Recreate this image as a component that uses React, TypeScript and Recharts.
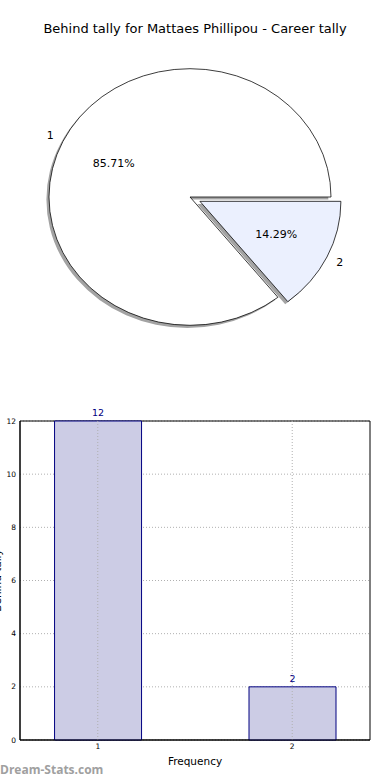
import React from 'react';
import {
  PieChart, Pie, Cell, BarChart, Bar, XAxis, YAxis, CartesianGrid,
  LabelList, ReferenceLine, ReferenceArea,
} from 'recharts';

const categories = ['1', '2'];
const values = [12, 2];
const xPositions = [1, 2];
const yTicks = [0, 2, 4, 6, 8, 10, 12];

const TITLE = 'Behind tally for Mattaes Phillipou - Career tally';
const X_LABEL = 'Frequency';
const Y_LABEL = 'Behind tally';
const WATERMARK = 'Dream-Stats.com';

const FONT = '"DejaVu Sans", sans-serif';
const SY = 0.91; // vertical squash (matplotlib ellipse)
const R = 141;
const CX = 190;
const CY = 197 / SY;
const EXPLODE = 11;

const total = values.reduce((a, b) => a + b, 0);
const pieData = categories.map((c, i) => ({ name: c, value: values[i] }));
const barData = categories.map((c, i) => ({ name: c, x: xPositions[i], value: values[i] }));

const RAD = Math.PI / 180;
const mid2 = (values[0] / total) * 360 + ((values[1] / total) * 360) / 2;
const EX_DX = EXPLODE * Math.cos(mid2 * RAD);
const EX_DY = -EXPLODE * Math.sin(mid2 * RAD);

const SH_DX = -2.6;
const SH_DY = 2.6 / SY;

const makeLabel = (showIndex: number) => (props: any) => {
  if (props.index !== showIndex) return null;
  const cx = Number(props.cx);
  const cy = Number(props.cy);
  const r = Number(props.outerRadius);
  const a = -Number(props.midAngle) * RAD;
  const lx = cx + 1.1 * r * Math.cos(a);
  const ly = cy + 1.1 * r * Math.sin(a);
  const px = cx + 0.6 * r * Math.cos(a);
  const py = cy + 0.6 * r * Math.sin(a);
  const pct = ((values[showIndex] / total) * 100).toFixed(2) + '%';
  return (
    <g>
      <text transform={`translate(${lx},${ly}) scale(1,${1 / SY})`} textAnchor="middle"
        dominantBaseline="central" fontSize={11} fontFamily={FONT} fill="#000">
        {categories[showIndex]}
      </text>
      <text transform={`translate(${px},${py}) scale(1,${1 / SY})`} textAnchor="middle"
        dominantBaseline="central" fontSize={11} fontFamily={FONT} fill="#000">
        {pct}
      </text>
    </g>
  );
};

const sliceFills = ['#ffffff', '#ebf0fe'];

export default function App() {
  return (
    <div style={{ position: 'absolute', left: 0, top: 0, width: 390, height: 780, background: '#fff', overflow: 'hidden', fontFamily: FONT }}>
      <div style={{ position: 'absolute', left: 0, top: 21, width: 390, textAlign: 'center', fontSize: 13, color: '#000' }}>
        {TITLE}
      </div>
      <div style={{ position: 'absolute', left: 0, top: 0, width: 390, height: 400, transform: `scaleY(${SY})`, transformOrigin: '0 0' }}>
        <PieChart width={390} height={400} margin={{ top: 0, right: 0, bottom: 0, left: 0 }}>
          {/* shadows */}
          <Pie data={pieData} dataKey="value" cx={CX + SH_DX} cy={CY + SH_DY} outerRadius={R}
            startAngle={0} endAngle={360} isAnimationActive={false} stroke="none" label={false}>
            <Cell fill="#a3a3a3" />
            <Cell fill="none" />
          </Pie>
          <Pie data={pieData} dataKey="value" cx={CX + EX_DX + SH_DX} cy={CY + EX_DY + SH_DY} outerRadius={R}
            startAngle={0} endAngle={360} isAnimationActive={false} stroke="none" label={false}>
            <Cell fill="none" />
            <Cell fill="#a3a3a3" />
          </Pie>
          {/* slices */}
          <Pie data={pieData} dataKey="value" cx={CX} cy={CY} outerRadius={R}
            startAngle={0} endAngle={360} isAnimationActive={false}
            label={makeLabel(0)} labelLine={false}>
            <Cell fill={sliceFills[0]} stroke="#000" strokeWidth={0.8} />
            <Cell fill="none" stroke="none" />
          </Pie>
          <Pie data={pieData} dataKey="value" cx={CX + EX_DX} cy={CY + EX_DY} outerRadius={R}
            startAngle={0} endAngle={360} isAnimationActive={false}
            label={makeLabel(1)} labelLine={false}>
            <Cell fill="none" stroke="none" />
            <Cell fill={sliceFills[1]} stroke="#000" strokeWidth={0.8} />
          </Pie>
        </PieChart>
      </div>
      <div style={{ position: 'absolute', left: 0, top: 400, width: 390, height: 380 }}>
        <BarChart width={390} height={380} data={barData} margin={{ top: 21, right: 20, bottom: 0, left: 0 }}>
          <CartesianGrid vertical={false} stroke="#b0b0b0" strokeDasharray="1 2" />
          <XAxis dataKey="x" type="number" domain={[0.6, 2.4]} ticks={xPositions} height={40}
            tickFormatter={(v: number) => categories[xPositions.indexOf(v)] ?? String(v)}
            tick={{ fontSize: 7.5, fill: '#000', fontFamily: FONT }} tickLine={false} tickSize={2} tickMargin={2}
            axisLine={{ stroke: '#000' }} allowDataOverflow
            label={{ value: X_LABEL, position: 'insideBottom', offset: 15, fontSize: 10.5, fill: '#000', fontFamily: FONT }} />
          <YAxis type="number" domain={[0, 12]} ticks={yTicks} width={20} interval={0}
            tick={{ fontSize: 7.5, fill: '#000', fontFamily: FONT }} tickLine={false} tickSize={2} tickMargin={2}
            axisLine={{ stroke: '#000' }}
            label={{ value: Y_LABEL, angle: -90, position: 'insideLeft', offset: -3, fontSize: 10.5, fill: '#000', fontFamily: FONT, style: { textAnchor: 'middle' } }} />
          <Bar dataKey="value" barSize={87} fill="#cccce5" isAnimationActive={false} stroke="#000080" strokeWidth={1}>
            {barData.map((d, i) => (
              <Cell key={i} fill="#cccce5" />
            ))}
            <LabelList dataKey="value" position="top" offset={5} fontSize={9.5} fill="#000080" fontFamily={FONT} />
          </Bar>
          {xPositions.map((x) => (
            <ReferenceLine key={x} x={x} stroke="#b0b0b0" strokeDasharray="1 2" />
          ))}
          <ReferenceArea x1={0.6} x2={2.4} y1={0} y2={12} fill="none" stroke="#000" strokeWidth={1} fillOpacity={0} />
        </BarChart>
      </div>
      <div style={{ position: 'absolute', left: 0, top: 761, fontSize: 12, fontWeight: 'bold', color: '#a0a0a0', fontFamily: '"Open Sans", sans-serif' }}>
        {WATERMARK}
      </div>
    </div>
  );
}
